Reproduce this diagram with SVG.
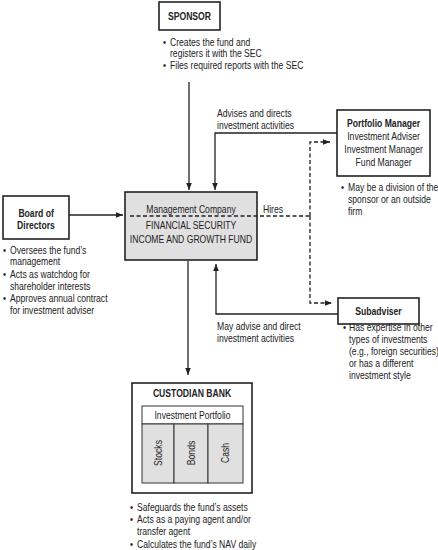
<svg xmlns="http://www.w3.org/2000/svg" width="438" height="550" viewBox="0 0 438 550">
<style>
text{font-family:"Liberation Sans",Arial,sans-serif;font-size:10.5px;fill:#222;transform-box:fill-box;transform-origin:0% 50%;transform:scaleX(0.82)}
.b{font-weight:bold}
.c{text-anchor:middle;transform-origin:50% 50%}
.box{fill:#fff;stroke:#222;stroke-width:1.6}
.gray{fill:#e0e0e0;stroke:#222;stroke-width:1.6}
.thin{fill:#fff;stroke:#333;stroke-width:1}
.cell{fill:#e0e0e0;stroke:#333;stroke-width:1}
.ln{fill:none;stroke:#222;stroke-width:1.3}
.dash{fill:none;stroke:#222;stroke-width:1.3;stroke-dasharray:4 2.5}
</style>
<defs>
<marker id="ah" viewBox="0 0 10 10" refX="10" refY="5" markerWidth="7" markerHeight="7" markerUnits="userSpaceOnUse" orient="auto">
<path d="M0,1 L10,5 L0,9 z" fill="#222"/>
</marker>
</defs>
<rect width="438" height="550" fill="#fff"/>

<g id="connectors">
<line class="ln" x1="189" y1="82" x2="189" y2="190" marker-end="url(#ah)"/>
<polyline class="ln" points="337,133 215,133 215,190" marker-end="url(#ah)"/>
<line class="ln" x1="69" y1="215" x2="123" y2="215" marker-end="url(#ah)"/>
<line class="ln" x1="188" y1="261" x2="188" y2="375" marker-end="url(#ah)"/>
<polyline class="ln" points="338,314 216,314 216,264" marker-end="url(#ah)"/>
<polyline class="dash" points="130,216 310,216"/>
<polyline class="dash" points="310,216 310,142 330,142" marker-end="url(#ah)"/>
<polyline class="dash" points="310,216 310,303 332,303" marker-end="url(#ah)"/>
<text x="217" y="117">Advises and directs</text>
<text x="217" y="129">investment activities</text>
<text x="263" y="213">Hires</text>
<text x="217" y="330">May advise and direct</text>
<text x="217" y="342">investment activities</text>
</g>

<g id="sponsor">
<rect class="box" x="159" y="2" width="61" height="28"/>
<text class="b c" x="189.5" y="20">SPONSOR</text>
<text x="163" y="46">•</text><text x="170" y="46">Creates the fund and</text>
<text x="170" y="57">registers it with the SEC</text>
<text x="163" y="69">•</text><text x="170" y="69">Files required reports with the SEC</text>
</g>

<g id="portfolio-manager">
<rect class="box" x="337" y="110" width="93" height="66"/>
<text class="b c" x="383.5" y="127">Portfolio Manager</text>
<text class="c" x="383.5" y="140">Investment Adviser</text>
<text class="c" x="383.5" y="153">Investment Manager</text>
<text class="c" x="383.5" y="166">Fund Manager</text>
<text x="341" y="191">•</text><text x="348" y="191">May be a division of the</text>
<text x="348" y="203">sponsor or an outside</text>
<text x="348" y="215">firm</text>
</g>

<g id="board">
<rect class="box" x="3" y="196" width="66" height="43"/>
<text class="b c" x="36" y="217">Board of</text>
<text class="b c" x="36" y="229">Directors</text>
<text x="3" y="254">•</text><text x="10" y="254">Oversees the fund’s</text>
<text x="10" y="265">management</text>
<text x="3" y="278">•</text><text x="10" y="278">Acts as watchdog for</text>
<text x="10" y="290">shareholder interests</text>
<text x="3" y="302">•</text><text x="10" y="302">Approves annual contract</text>
<text x="10" y="314">for investment adviser</text>
</g>

<g id="management-company">
<rect class="gray" x="125" y="192" width="132" height="68"/>
<text class="c" x="191" y="213">Management Company</text>
<line class="dash" x1="130" y1="216" x2="257" y2="216"/>
<text class="c" x="191" y="229">FINANCIAL SECURITY</text>
<text class="c" x="191" y="243">INCOME AND GROWTH FUND</text>
</g>

<g id="subadviser">
<rect class="box" x="338" y="298" width="81" height="26"/>
<text class="b c" x="378.5" y="315">Subadviser</text>
<text x="343" y="331">•</text><text x="349" y="331">Has expertise in other</text>
<text x="349" y="343">types of investments</text>
<text x="349" y="355">(e.g., foreign securities)</text>
<text x="349" y="367">or has a different</text>
<text x="349" y="379">investment style</text>
</g>

<g id="custodian-bank">
<rect class="box" x="132" y="383" width="120" height="110"/>
<text class="b c" x="192" y="397">CUSTODIAN BANK</text>
<rect class="thin" x="142" y="406" width="101" height="18"/>
<text class="c" x="192.5" y="419">Investment Portfolio</text>
<rect class="cell" x="142" y="424" width="32" height="59"/>
<rect class="cell" x="174" y="424" width="34" height="59"/>
<rect class="cell" x="208" y="424" width="35" height="59"/>
<g transform="translate(162,453) rotate(-90)"><text class="c" x="0" y="0">Stocks</text></g>
<g transform="translate(194.5,453) rotate(-90)"><text class="c" x="0" y="0">Bonds</text></g>
<g transform="translate(229,453) rotate(-90)"><text class="c" x="0" y="0">Cash</text></g>
<text x="130" y="511">•</text><text x="137" y="511">Safeguards the fund’s assets</text>
<text x="130" y="523">•</text><text x="137" y="523">Acts as a paying agent and/or</text>
<text x="137" y="535">transfer agent</text>
<text x="130" y="548">•</text><text x="137" y="548">Calculates the fund’s NAV daily</text>
</g>
</svg>
